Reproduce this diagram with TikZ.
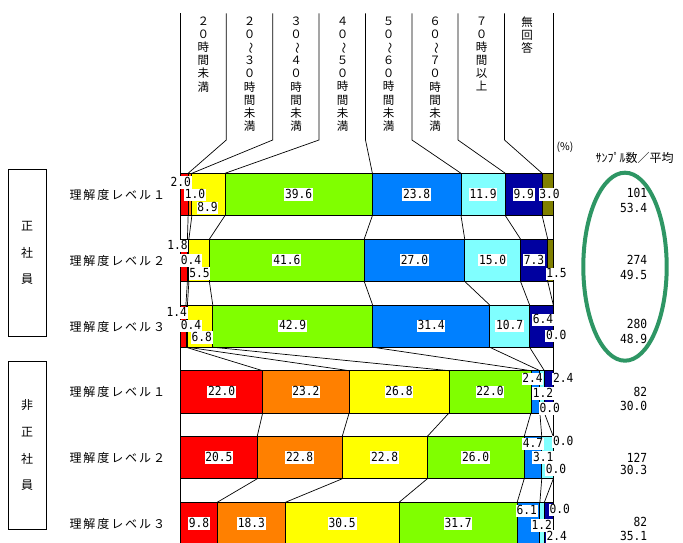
\documentclass[tikz,border=0pt]{standalone}
\usepackage{fontspec}
\usepackage{graphicx}
\usetikzlibrary{shapes.geometric}
\newfontfamily\jp{Noto Sans CJK JP}
\newfontfamily\jpl[LetterSpace=16]{Noto Sans CJK JP}
\newfontfamily\numf{DejaVu Sans Mono}
\definecolor{c1}{RGB}{255,0,0}
\definecolor{c2}{RGB}{255,128,0}
\definecolor{c3}{RGB}{255,255,0}
\definecolor{c4}{RGB}{128,255,0}
\definecolor{c5}{RGB}{0,128,255}
\definecolor{c6}{RGB}{128,255,255}
\definecolor{c7}{RGB}{0,0,160}
\definecolor{c8}{RGB}{128,128,0}
\definecolor{ovalc}{RGB}{46,150,100}
\newcommand\V[1]{\scalebox{0.9}[1]{#1}}
\newcommand\wv{\rotatebox[origin=c]{-90}{～}}
\newcommand\mkrow[3]{%
  \foreach \x [count=\k from 0] in {#3} {
    \coordinate (t#1-\k) at (\x,#2);
    \coordinate (b#1-\k) at (\x,#2+42.3);
  }
  \foreach \k in {1,...,8} {
    \pgfmathtruncatemacro\kp{\k-1}
    \filldraw[barseg, fill=c\k] (t#1-\kp) rectangle (b#1-\k);
  }
}
\begin{document}
\begin{tikzpicture}[x=1pt,y=-1pt,
  barseg/.style={draw=black,line width=0.8pt},
  conn/.style={draw=black,line width=0.7pt},
  vl/.style={fill=white,inner xsep=0.8pt,inner ysep=0.8pt,text height=9.3pt,text depth=1.5pt,font=\numf\fontsize{12.5}{13}\selectfont},
  rn/.style={anchor=east,inner sep=0pt,text height=9.3pt,text depth=1.5pt,font=\numf\fontsize{12.5}{13}\selectfont},
  vt/.style={anchor=north,align=center,inner sep=0pt,font=\jp\fontsize{11.5}{13.15}\selectfont},
  rl/.style={anchor=west,inner sep=0pt,font=\jpl\fontsize{12}{14}\selectfont},
  grp/.style={draw=black,line width=0.8pt,minimum width=37.7pt,align=center,font=\jp\fontsize{12}{26.7}\selectfont}
]
\useasboundingbox (0,0) rectangle (683,543);
\clip (0,0) rectangle (683,543);

% header line coordinates
\foreach \hx [count=\k from 0] in {180.7,226.3,272.7,319,365.5,412,458,504.5,553.3} {
  \coordinate (ha-\k) at (\hx,13.3);
  \coordinate (hb-\k) at (\hx,140);
}
\coordinate (axL) at (180.7,543);
\coordinate (axR) at (553.3,543);
\draw[conn] (ha-0) -- (axL);
\draw[conn] (ha-8) -- (axR);

% bars
\mkrow{1}{173.3}{180.7,188.14,191.87,225.0,372.40,461.0,505.28,542.13,553.3}
\mkrow{2}{239.1}{180.7,187.40,188.89,209.36,364.21,464.71,520.54,547.71,553.3}
\mkrow{3}{304.9}{180.7,185.92,187.41,212.74,372.59,489.59,529.57,553.3,553.3}
\mkrow{4}{370.7}{180.7,262.67,349.12,448.97,530.94,539.88,544.36,553.3,553.3}
\mkrow{5}{436.5}{180.7,257.16,342.19,427.25,524.19,541.74,553.3,553.3,553.3}
\mkrow{6}{502.3}{180.7,217.21,285.40,399.04,517.15,539.88,544.36,553.3,553.3}

% header leader lines
\foreach \k in {1,...,7} { \draw[conn] (ha-\k) -- (hb-\k) -- (t1-\k); }
% series lines
\foreach \i [evaluate=\i as \j using int(\i+1)] in {1,...,5} {
  \foreach \k in {1,...,7} { \draw[conn] (b\i-\k) -- (t\j-\k); }
}

% header texts
\node[vt] (hc1) at (203.3,16.5) {２\\０\\時\\間\\未\\満};
\node[vt] (hc2) at (249.7,16.5) {２\\０\\\wv\\３\\０\\時\\間\\未\\満};
\node[vt] (hc3) at (296,16.5) {３\\０\\\wv\\４\\０\\時\\間\\未\\満};
\node[vt] (hc4) at (342.5,16.5) {４\\０\\\wv\\５\\０\\時\\間\\未\\満};
\node[vt] (hc5) at (388.7,16.5) {５\\０\\\wv\\６\\０\\時\\間\\未\\満};
\node[vt] (hc6) at (435,16.5) {６\\０\\\wv\\７\\０\\時\\間\\未\\満};
\node[vt] (hc7) at (481.5,16.5) {７\\０\\時\\間\\以\\上};
\node[vt] (hc8) at (527,16.5) {無\\回\\答};

\node[font=\jp\fontsize{10.5}{12}\selectfont,inner sep=0pt] (pct) at (565,147) {(\%)};
\node[font=\jp\fontsize{12}{14}\selectfont,inner sep=0pt] (smp) at (634.5,158.3) {ｻﾝﾌﾟﾙ数／平均};

% group boxes
\node[grp,minimum height=167.4pt] (g1) at (27.15,253) {正\\社\\員};
\node[grp,minimum height=168.3pt] (g2) at (27.15,445.15) {非\\正\\社\\員};

% row labels
\node[rl] (rl1) at (69.3,195) {理解度レベル１};
\node[rl] (rl2) at (69.3,261) {理解度レベル２};
\node[rl] (rl3) at (69.3,326.7) {理解度レベル３};
\node[rl] (rl4) at (69.3,392.3) {理解度レベル１};
\node[rl] (rl5) at (69.3,458.3) {理解度レベル２};
\node[rl] (rl6) at (69.3,523.5) {理解度レベル３};

% value labels row 1
\node[vl] (v1a) at (180.8,182.5) {\V{2.0}};
\node[vl] (v1b) at (195,195) {\V{1.0}};
\node[vl] (v1c) at (207.5,207.7) {\V{8.9}};
\node[vl] (v1d) at (298.7,194.45) {\V{39.6}};
\node[vl] (v1e) at (416.7,194.45) {\V{23.8}};
\node[vl] (v1f) at (483.1,194.45) {\V{11.9}};
\node[vl] (v1g) at (523.7,194.45) {\V{9.9}};
\node[vl] (v1h) at (549.5,194.45) {\V{3.0}};
% row 2
\node[vl] (v2a) at (177.5,246) {\V{1.8}};
\node[vl] (v2b) at (191,260.5) {\V{0.4}};
\node[vl] (v2c) at (199.5,273.5) {\V{5.5}};
\node[vl] (v2d) at (286.8,260.25) {\V{41.6}};
\node[vl] (v2e) at (414.5,260.25) {\V{27.0}};
\node[vl] (v2f) at (492.6,260.25) {\V{15.0}};
\node[vl] (v2g) at (534,260.25) {\V{7.3}};
\node[vl] (v2h) at (556.5,274) {\V{1.5}};
% row 3
\node[vl] (v3a) at (176.7,313) {\V{1.4}};
\node[vl] (v3b) at (191,326) {\V{0.4}};
\node[vl] (v3c) at (201.7,337.5) {\V{6.8}};
\node[vl] (v3d) at (292.7,326.05) {\V{42.9}};
\node[vl] (v3e) at (431.1,326.05) {\V{31.4}};
\node[vl] (v3f) at (509.6,326.05) {\V{10.7}};
\node[vl] (v3g) at (543,320) {\V{6.4}};
\node[vl] (v3h) at (556.3,336) {\V{0.0}};
% row 4
\node[vl] (v4a) at (221.7,391.85) {\V{22.0}};
\node[vl] (v4b) at (305.9,391.85) {\V{23.2}};
\node[vl] (v4c) at (399.0,391.85) {\V{26.8}};
\node[vl] (v4d) at (490.0,391.85) {\V{22.0}};
\node[vl] (v4e) at (532.5,379) {\V{2.4}};
\node[vl] (v4f) at (543,393.3) {\V{1.2}};
\node[vl] (v4g) at (549.7,408.3) {\V{0.0}};
\node[vl] (v4h) at (563.3,379) {\V{2.4}};
% row 5
\node[vl] (v5a) at (218.9,457.65) {\V{20.5}};
\node[vl] (v5b) at (299.7,457.65) {\V{22.8}};
\node[vl] (v5c) at (384.7,457.65) {\V{22.8}};
\node[vl] (v5d) at (475.7,457.65) {\V{26.0}};
\node[vl] (v5e) at (533,444) {\V{4.7}};
\node[vl] (v5f) at (543.3,457.3) {\V{3.1}};
\node[vl] (v5g) at (556,470) {\V{0.0}};
\node[vl] (v5h) at (563.3,442) {\V{0.0}};
% row 6
\node[vl] (v6a) at (199.0,523.45) {\V{9.8}};
\node[vl] (v6b) at (251.3,523.45) {\V{18.3}};
\node[vl] (v6c) at (342.2,523.45) {\V{30.5}};
\node[vl] (v6d) at (458.1,523.45) {\V{31.7}};
\node[vl] (v6e) at (526.7,510.7) {\V{6.1}};
\node[vl] (v6f) at (541.7,525.5) {\V{1.2}};
\node[vl] (v6g) at (556.7,536.3) {\V{2.4}};
\node[vl] (v6h) at (559.7,510) {\V{0.0}};

% sample sizes / means
\node[rn] (n1a) at (647.3,193.5) {\V{101}};
\node[rn] (n1b) at (647.3,208.3) {\V{53.4}};
\node[rn] (n2a) at (647.3,260.7) {\V{274}};
\node[rn] (n2b) at (647.3,275.3) {\V{49.5}};
\node[rn] (n3a) at (647.3,325) {\V{280}};
\node[rn] (n3b) at (647.3,340) {\V{48.9}};
\node[rn] (n4a) at (647.3,392.3) {\V{82}};
\node[rn] (n4b) at (647.3,406.7) {\V{30.0}};
\node[rn] (n5a) at (647.3,458.3) {\V{127}};
\node[rn] (n5b) at (647.3,471) {\V{30.3}};
\node[rn] (n6a) at (647.3,522.5) {\V{82}};
\node[rn] (n6b) at (647.3,536.3) {\V{35.1}};

% highlight oval
\node[draw=ovalc,line width=4pt,ellipse,inner sep=0pt,minimum width=83.4pt,minimum height=188pt] (oval) at (625,266.7) {};
\end{tikzpicture}
\end{document}
